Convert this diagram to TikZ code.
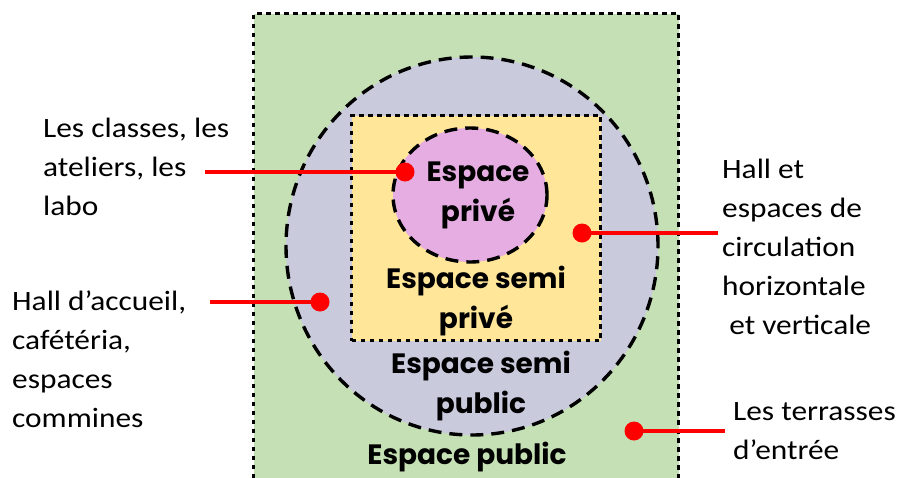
\documentclass[tikz,border=0pt]{standalone}
\usepackage{fontspec}
\setmainfont{Carlito}[FakeStretch=1.12]
\newfontfamily\zonefont{Poppins}
\usetikzlibrary{shapes.geometric}
\definecolor{PublicGreen}{HTML}{C5E0B4}
\definecolor{SemiPublic}{HTML}{C9CBDD}
\definecolor{SemiPrive}{HTML}{FFE699}
\definecolor{Prive}{HTML}{E6ADE3}
\definecolor{Pin}{HTML}{FF0000}
\tikzset{
  zonebox/.style={draw=black,line width=3.4pt,dash pattern=on 4.3pt off 4.7pt,inner sep=0pt},
  zoneoval/.style={draw=black,line width=3.4pt,dash pattern=on 13pt off 8pt,ellipse,inner sep=0pt},
  zonetitle/.style={font=\zonefont\bfseries\fontsize{28}{40}\selectfont,align=center},
  legend/.style={font=\fontsize{28}{39}\selectfont,align=left,inner sep=0pt,anchor=north west},
  pin/.style={circle,fill=Pin,minimum size=19pt,inner sep=0pt},
  pinline/.style={draw=Pin,line width=3.6pt}
}
\begin{document}
\begin{tikzpicture}[x=1pt,y=-1pt]
  \useasboundingbox (0,0) rectangle (902,477);
  % zones, from outside to inside
  \node[zonebox,fill=PublicGreen,minimum width=425pt,minimum height=490pt,anchor=north west] (public) at (252,12) {};
  \node[zoneoval,fill=SemiPublic,minimum width=372pt,minimum height=378pt] (semipublic) at (472,246) {};
  \node[zonebox,fill=SemiPrive,minimum width=249pt,minimum height=225pt,anchor=north west] (semiprive) at (350,114) {};
  \node[zoneoval,fill=Prive,minimum width=154pt,minimum height=134pt] (prive) at (470,195) {};
  \node[zonetitle] (tprive) at (478,195) {Espace\\privé};
  \node[zonetitle] (tsemiprive) at (476,301) {Espace semi\\privé};
  \node[zonetitle] (tsemipublic) at (481,386) {Espace semi\\public};
  \node[zonetitle] (tpublic) at (467,457) {Espace public};
  % legends
  \node[legend] (labo) at (43,117.5) {Les classes, les\\ateliers, les\\labo};
  \node[legend] (accueil) at (12,290.5) {Hall d’accueil,\\cafétéria,\\espaces\\commines};
  \node[legend] (hall) at (722,158.5) {Hall et\\espaces de\\circulation\\horizontale\\\ et verticale};
  \node[legend] (terrasses) at (733,402) {Les terrasses\\d’entrée};
  % pins
  \node[pin] (pinprive) at (405,172) {};
  \node[pin] (pinsemipublic) at (320,302) {};
  \node[pin] (pinsemiprive) at (582,233) {};
  \node[pin] (pinpublic) at (634,431) {};
  \coordinate (endlabo) at (205,172);
  \coordinate (endaccueil) at (210,302);
  \coordinate (endhall) at (718,233);
  \coordinate (endterrasses) at (725,431);
  \draw[pinline] (endlabo) -- (pinprive.center);
  \draw[pinline] (endaccueil) -- (pinsemipublic.center);
  \draw[pinline] (endhall) -- (pinsemiprive.center);
  \draw[pinline] (endterrasses) -- (pinpublic.center);
\end{tikzpicture}
\end{document}
